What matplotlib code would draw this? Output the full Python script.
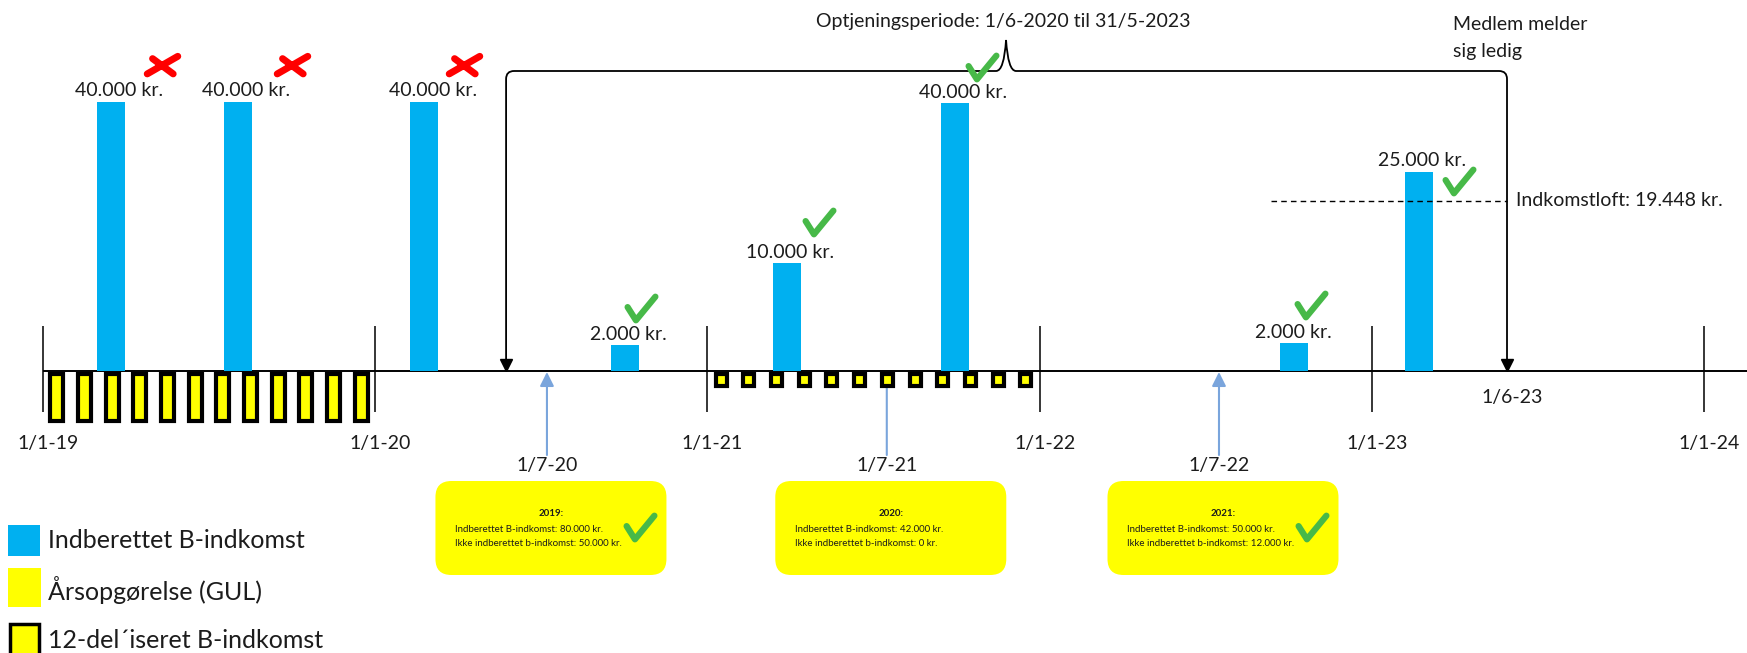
import matplotlib
import numpy as np

matplotlib.use("Agg")

from matplotlib import pyplot as plt
from matplotlib.markers import MarkerStyle
from matplotlib.patches import FancyBboxPatch, PathPatch, Rectangle
from matplotlib.path import Path
from matplotlib.transforms import Affine2D

plt.rcParams["font.family"] = ["Lato", "DejaVu Sans"]

W, H = 1747, 653
AXIS_PX = 371      # pixel row of the time axis
X0_PX = 43         # pixel column of 1/1-19
YEAR_PX = 332.2    # pixels per year
TXT = "#1c1c1c"
BLUE = "#00B0F0"
YELLOW = "#FFFF00"
GREEN = "#47B948"

# --- data (x in years, heights are the schematic drawn heights, not to scale) ---
year_ticks = [2019, 2020, 2021, 2022, 2023, 2024]
year_labels = ["1/1-19", "1/1-20", "1/1-21", "1/1-22", "1/1-23", "1/1-24"]

bar_x = [2019.205, 2019.587, 2020.147, 2020.753, 2021.24, 2021.745, 2022.766, 2023.141]
bar_height = [269, 269, 269, 26, 108, 268, 28, 199]
bar_labels = ["40.000 kr.", "40.000 kr.", "40.000 kr.", "2.000 kr.", "10.000 kr.",
              "40.000 kr.", "2.000 kr.", "25.000 kr."]
bar_counted = [False, False, False, True, True, True, True, True]

monthly_years = [2019, 2021]
monthly_height = [47, 12]

period_start = 2020.394
period_end = 2023.407
period_peak = 2021.899
period_label = "Optjeningsperiode: 1/6-2020 til 31/5-2023"
period_end_label = "1/6-23"
ceiling_start = 2022.697
ceiling_height = 170
ceiling_label = "Indkomstloft: 19.448 kr."

statement_x = [2020.517, 2021.54, 2022.54]
statement_labels = ["1/7-20", "1/7-21", "1/7-22"]
statement_years = ["2019", "2020", "2021"]
statement_reported = ["80.000 kr.", "42.000 kr.", "50.000 kr."]
statement_unreported = ["50.000 kr.", "0 kr.", "12.000 kr."]
statement_ok = [True, False, True]

legend_labels = ["Indberettet B-indkomst", "Årsopgørelse (GUL)", "12-del´iseret B-indkomst"]

# --- layout helpers ---
label_nudge = [8, 8, 9, 3, 3, 8, -1, 3]           # px shift of bar labels
mark_dx = [51, 54, 40, 16, 32, 27, 17, 40]        # px right of bar centre
mark_dy = [37, 37, 37, 37, 41, 36, 38, -9]        # px above bar top
monthly_width = [13, 11]


def px_x(year):
    return X0_PX + (year - 2019) * YEAR_PX


check_path = Path([(-1.0, 0.1), (-0.4, -0.85), (1.0, 0.85)],
                  [Path.MOVETO, Path.LINETO, Path.LINETO])
cross_path = Path([(-1.0, -0.55), (1.0, 0.6), (-0.65, 0.45), (0.7, -0.55)],
                  [Path.MOVETO, Path.LINETO, Path.MOVETO, Path.LINETO])
CHECK = MarkerStyle(check_path, capstyle="round", joinstyle="round")
CROSS = MarkerStyle(cross_path, capstyle="round", joinstyle="round")

fig = plt.figure(figsize=(W / 100, H / 100), dpi=100)
ax = fig.add_axes([0, 0, 1, 1])
ax.set_xlim(2019 - X0_PX / YEAR_PX, 2019 + (W - X0_PX) / YEAR_PX)
ax.set_ylim(AXIS_PX - H, AXIS_PX)
ax.axis("off")
PX = Affine2D().scale(1, -1).translate(0, H)   # top-left pixel coords

# time axis and year ticks
ax.hlines(0, 2019, ax.get_xlim()[1], color="black", lw=1.4, zorder=2)
ax.vlines(year_ticks, -41, 45, color="black", lw=1.1, zorder=2)
for yr, lab in zip(year_ticks, year_labels):
    ax.text(yr + 5 / YEAR_PX, -72, lab, ha="center", va="center", fontsize=14, color=TXT)

# monthly (12-del) boxes hanging under the axis
for yr, h, w in zip(monthly_years, monthly_height, monthly_width):
    centers = yr + (np.arange(12) + 0.5) / 12
    for c in centers:
        ax.add_patch(Rectangle((c - w / 2 / YEAR_PX, -3 - h), w / YEAR_PX, h,
                               fc=YELLOW, ec="black", lw=3, zorder=4))

# bars with labels and marks
ax.bar(bar_x, bar_height, width=28 / YEAR_PX, color=BLUE, zorder=3)
for i, (x, h, lab) in enumerate(zip(bar_x, bar_height, bar_labels)):
    ax.text(x + label_nudge[i] / YEAR_PX, h + 11, lab, ha="center", va="center",
            fontsize=14, color=TXT, zorder=5)
    mx = x + mark_dx[i] / YEAR_PX
    my = h + mark_dy[i]
    if bar_counted[i]:
        ax.plot(mx, my, marker=CHECK, ms=20, mew=4.5, mec=GREEN, mfc="none", ls="none", zorder=6)
    else:
        ax.plot(mx, my, marker=CROSS, ms=22, mew=5, mec="#FF0000", mfc="none", ls="none", zorder=6)

# earning period bracket
top = 300
r = 8 / YEAR_PX
verts = [(period_start, 10), (period_start, top - 8), (period_start, top), (period_start + r, top),
         (period_peak - 0.03, top), (period_peak - 0.006, top), (period_peak, top + 31),
         (period_peak + 0.006, top), (period_peak + 0.03, top),
         (period_end - r, top), (period_end, top), (period_end, top - 8), (period_end, 10)]
codes = [Path.MOVETO, Path.LINETO, Path.CURVE3, Path.CURVE3,
         Path.LINETO, Path.CURVE3, Path.CURVE3, Path.CURVE3, Path.CURVE3,
         Path.LINETO, Path.CURVE3, Path.CURVE3, Path.LINETO]
ax.add_patch(PathPatch(Path(verts, codes), fc="none", ec="black", lw=1.3, zorder=2))
ax.plot([period_start, period_end], [6, 6], marker="v", ms=8, color="black", ls="none", zorder=2)
ax.text(period_peak - 3 / YEAR_PX, 350, period_label, ha="center", va="center", fontsize=14, color=TXT)
ax.text(period_end + 5 / YEAR_PX, -27, period_end_label, ha="center", va="center", fontsize=14, color=TXT)
ax.text(period_end - 54 / YEAR_PX, 346, "Medlem melder", ha="left", va="center", fontsize=14, color=TXT)
ax.text(period_end - 54 / YEAR_PX, 319, "sig ledig", ha="left", va="center", fontsize=14, color=TXT)

# income ceiling
ax.hlines(ceiling_height, ceiling_start, period_end, color="black", lw=1.0,
          linestyles=(0, (4, 3)), zorder=4)
ax.text(period_end + 9 / YEAR_PX, ceiling_height, ceiling_label, ha="left", va="center",
        fontsize=14, color=TXT)

# annual statements
for x, lab, yr, rep, unrep, ok in zip(statement_x, statement_labels, statement_years,
                                      statement_reported, statement_unreported, statement_ok):
    ax.annotate("", xy=(x, -1), xytext=(x, -84),
                arrowprops=dict(arrowstyle="-|>,head_length=0.7,head_width=0.35",
                                color="#7AA5DC", lw=1.5, shrinkA=0, shrinkB=0,
                                mutation_scale=12), zorder=1)
    ax.text(x, -94, lab, ha="center", va="center", fontsize=14, color=TXT)
    cx = px_x(x) + 4
    ax.add_patch(FancyBboxPatch((cx - 115.5, 481), 231, 94,
                                boxstyle="round,pad=0,rounding_size=16",
                                fc=YELLOW, ec="none", transform=PX, zorder=3))
    ax.text(cx, 514, yr + ":", ha="center", va="center", fontsize=7, fontweight="bold",
            color=TXT, transform=PX, zorder=4)
    ax.text(cx - 96, 529, "Indberettet B-indkomst: " + rep, ha="left", va="center",
            fontsize=7, color=TXT, transform=PX, zorder=4)
    ax.text(cx - 96, 543, "Ikke indberettet b-indkomst: " + unrep, ha="left", va="center",
            fontsize=7, color=TXT, transform=PX, zorder=4)
    if ok:
        ax.plot(cx + 89, 527, marker=CHECK, ms=20, mew=4.5, mec=GREEN, mfc="none",
                ls="none", transform=PX, zorder=5)

# legend
ax.add_patch(Rectangle((8, 525), 32, 31, fc=BLUE, ec="none", transform=PX))
ax.add_patch(Rectangle((8, 568), 33, 39, fc=YELLOW, ec="none", transform=PX))
ax.add_patch(Rectangle((10, 624), 29, 40, fc=YELLOW, ec="black", lw=2.5, transform=PX))
for lab, y in zip(legend_labels, [540, 590, 640]):
    ax.text(48, y, lab, ha="left", va="center", fontsize=18, color=TXT, transform=PX)

fig.savefig("out.png", dpi=100)
